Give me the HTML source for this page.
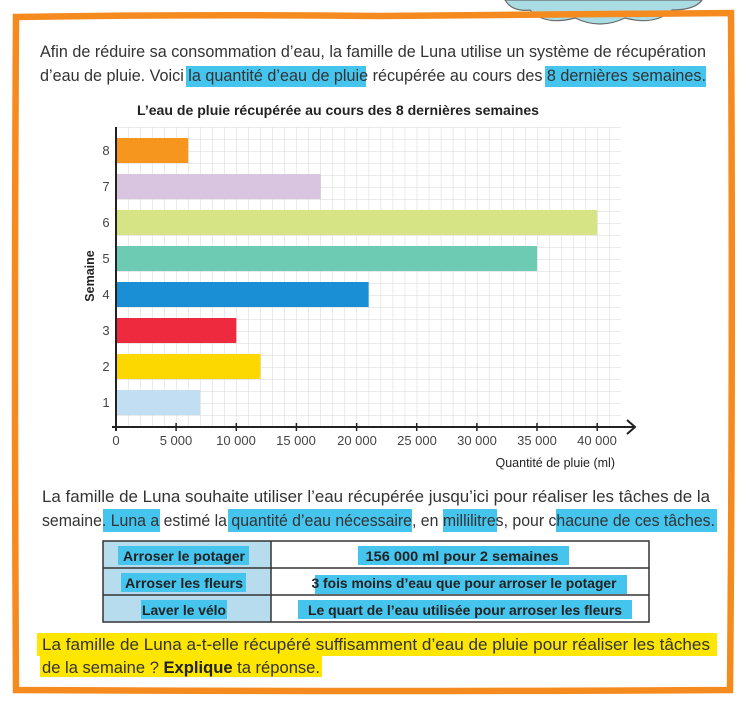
<!DOCTYPE html>
<html><head><meta charset="utf-8"><style>
html,body{margin:0;padding:0;background:#fff;}
svg{display:block;font-family:"Liberation Sans Narrow","Liberation Sans",sans-serif;}
</style></head><body>
<svg width="747" height="708" viewBox="0 0 747 708" xmlns="http://www.w3.org/2000/svg">
<defs>
<pattern id="g" x="116" y="127" width="12.03" height="12" patternUnits="userSpaceOnUse">
<path d="M0 0V12M0 0H12.03" stroke="#d6d6d6" stroke-width="1" fill="none"/>
</pattern>
</defs>
<rect width="747" height="708" fill="#fff"/>
<!-- cloud -->
<path d="M505 0 Q512 12 530 10 Q545 26 575 18 Q600 30 625 18 Q655 26 672 10 Q695 10 702 0 Z" fill="#a9dce3" stroke="#6a6a6a" stroke-width="1.2"/>
<!-- frame -->
<path d="M16 17 Q200 14 380 16 Q560 14 731 13 Q733 350 730 690 Q400 692 16 690 Q14 350 16 17 Z" fill="none" stroke="#f58a1f" stroke-width="6.5"/>
<!-- intro highlights -->
<rect x="186" y="66" width="180" height="21" fill="#45c4ee"/>
<rect x="545" y="66" width="161" height="21" fill="#45c4ee"/>
<g font-size="16.5" fill="#333">
<text x="40" y="57" textLength="666" lengthAdjust="spacingAndGlyphs">Afin de réduire sa consommation d’eau, la famille de Luna utilise un système de récupération</text>
<text x="40" y="81" textLength="666" lengthAdjust="spacingAndGlyphs">d’eau de pluie. Voici la quantité d’eau de pluie récupérée au cours des 8 dernières semaines.</text>
</g>
<text x="338" y="115" font-size="14" font-weight="bold" fill="#222" text-anchor="middle" textLength="402" lengthAdjust="spacingAndGlyphs">L’eau de pluie récupérée au cours des 8 dernières semaines</text>
<!-- grid -->
<rect x="116" y="127" width="505" height="300" fill="url(#g)"/>
<!-- bars -->
<rect x="116" y="138" width="72.2" height="25" fill="#f7961f"/>
<rect x="116" y="174" width="204.5" height="25" fill="#d9c5e0"/>
<rect x="116" y="210" width="481.2" height="25" fill="#d6e486"/>
<rect x="116" y="246" width="421" height="25" fill="#6dcab3"/>
<rect x="116" y="282" width="252.6" height="25" fill="#1a8fd6"/>
<rect x="116" y="318" width="120.3" height="25" fill="#ee2a3e"/>
<rect x="116" y="354" width="144.4" height="25" fill="#fcd800"/>
<rect x="116" y="390" width="84.2" height="25" fill="#c1def2"/>
<!-- axes -->
<line x1="116" y1="127" x2="116" y2="431" stroke="#222" stroke-width="2"/>
<line x1="112" y1="427" x2="634" y2="427" stroke="#222" stroke-width="2"/>
<path d="M627 420 L635 427 L627 434" fill="none" stroke="#222" stroke-width="2"/>
<g stroke="#222" stroke-width="1.5">
<line x1="176.1" y1="423" x2="176.1" y2="431"/><line x1="236.3" y1="423" x2="236.3" y2="431"/><line x1="296.4" y1="423" x2="296.4" y2="431"/><line x1="356.6" y1="423" x2="356.6" y2="431"/><line x1="416.7" y1="423" x2="416.7" y2="431"/><line x1="476.9" y1="423" x2="476.9" y2="431"/><line x1="537" y1="423" x2="537" y2="431"/><line x1="597.2" y1="423" x2="597.2" y2="431"/>
</g>
<g font-size="13" fill="#444" text-anchor="middle">
<text x="116" y="445">0</text><text x="176" y="445">5 000</text><text x="236" y="445">10 000</text><text x="296" y="445">15 000</text><text x="357" y="445">20 000</text><text x="417" y="445">25 000</text><text x="477" y="445">30 000</text><text x="537" y="445">35 000</text><text x="597" y="445">40 000</text>
</g>
<text x="615" y="467" font-size="12.5" fill="#222" text-anchor="end">Quantité de pluie (ml)</text>
<g font-size="13" fill="#444" text-anchor="middle">
<text x="106" y="155">8</text><text x="106" y="191">7</text><text x="106" y="227">6</text><text x="106" y="263">5</text><text x="106" y="299">4</text><text x="106" y="335">3</text><text x="106" y="371">2</text><text x="106" y="407">1</text>
</g>
<text transform="translate(94,276) rotate(-90)" font-size="12.5" font-weight="bold" fill="#222" text-anchor="middle">Semaine</text>
<!-- paragraph 2 -->
<rect x="103" y="509" width="57" height="23" fill="#45c4ee"/>
<rect x="228" y="509" width="184" height="23" fill="#45c4ee"/>
<rect x="443" y="509" width="54" height="23" fill="#45c4ee"/>
<rect x="556" y="509" width="161" height="23" fill="#45c4ee"/>
<g font-size="16.5" fill="#333">
<text x="42" y="502" textLength="668" lengthAdjust="spacingAndGlyphs">La famille de Luna souhaite utiliser l’eau récupérée jusqu’ici pour réaliser les tâches de la</text>
<text x="42" y="526" textLength="673" lengthAdjust="spacingAndGlyphs">semaine. Luna a estimé la quantité d’eau nécessaire, en millilitres, pour chacune de ces tâches.</text>
</g>
<!-- table -->
<rect x="103" y="541" width="168" height="81" fill="#b7dcee"/>
<rect x="118" y="546" width="131" height="19" fill="#45c4ee"/>
<rect x="121" y="573" width="125" height="19" fill="#45c4ee"/>
<rect x="141" y="600" width="86" height="19" fill="#45c4ee"/>
<rect x="358" y="546" width="211" height="19" fill="#45c4ee"/>
<rect x="315" y="575" width="312" height="19" fill="#45c4ee"/>
<rect x="298" y="600" width="334" height="19" fill="#45c4ee"/>
<g fill="none" stroke="#333" stroke-width="1.5">
<rect x="103" y="541" width="546" height="81"/>
<line x1="271" y1="541" x2="271" y2="622"/>
<line x1="103" y1="568" x2="649" y2="568"/>
<line x1="103" y1="595" x2="649" y2="595"/>
</g>
<g font-size="14" font-weight="bold" fill="#222" text-anchor="middle" lengthAdjust="spacingAndGlyphs">
<text x="184" y="561" textLength="122" lengthAdjust="spacingAndGlyphs">Arroser le potager</text>
<text x="184" y="588" textLength="118" lengthAdjust="spacingAndGlyphs">Arroser les fleurs</text>
<text x="184" y="615" textLength="84" lengthAdjust="spacingAndGlyphs">Laver le vélo</text>
<text x="462" y="561" textLength="193" lengthAdjust="spacingAndGlyphs">156 000 ml pour 2 semaines</text>
<text x="464" y="588" textLength="305" lengthAdjust="spacingAndGlyphs">3 fois moins d’eau que pour arroser le potager</text>
<text x="465" y="615" textLength="314" lengthAdjust="spacingAndGlyphs">Le quart de l’eau utilisée pour arroser les fleurs</text>
</g>
<!-- question -->
<rect x="37" y="633" width="680" height="23" fill="#ffe600"/>
<rect x="40" y="656" width="282" height="21" fill="#ffe600"/>
<g font-size="16.5" fill="#333">
<text x="42" y="650" textLength="668" lengthAdjust="spacingAndGlyphs">La famille de Luna a-t-elle récupéré suffisamment d’eau de pluie pour réaliser les tâches</text>
<text x="42" y="673" textLength="278" lengthAdjust="spacingAndGlyphs">de la semaine ? <tspan font-weight="bold" fill="#222">Explique</tspan> ta réponse.</text>
</g>
</svg>
</body></html>
